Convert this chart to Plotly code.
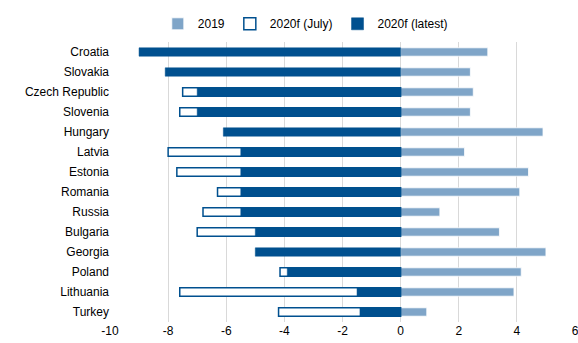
import plotly.graph_objects as go

countries = ["Croatia", "Slovakia", "Czech Republic", "Slovenia", "Hungary", "Latvia",
             "Estonia", "Romania", "Russia", "Bulgaria", "Georgia", "Poland",
             "Lithuania", "Turkey"]
gdp_2019 = [3.0, 2.4, 2.5, 2.4, 4.9, 2.2, 4.4, 4.1, 1.35, 3.4, 5.0, 4.15, 3.9, 0.9]
f2020_july = [None, None, -7.5, -7.6, None, -8.0, -7.7, -6.3, -6.8, -7.0, None, -4.15, -7.6, -4.2]
f2020_latest = [-9.0, -8.1, -7.0, -7.0, -6.1, -5.5, -5.5, -5.5, -5.5, -5.0, -5.0, -3.9, -1.5, -1.4]
x_ticks = [-10, -8, -6, -4, -2, 0, 2, 4, 6]

dark = "#00508F"
light = "#7FA5C8"

fig = go.Figure()
fig.add_trace(go.Bar(y=countries, x=gdp_2019, orientation="h", name="2019",
                     marker=dict(color=light, line=dict(color="white", width=0.8)),
                     width=0.42))
fig.add_trace(go.Bar(y=countries, x=f2020_july, orientation="h", name="2020f (July)",
                     marker=dict(color="white", line=dict(color=dark, width=1.5)),
                     width=0.42))
fig.add_trace(go.Bar(y=countries, x=f2020_latest, orientation="h", name="2020f (latest)",
                     marker=dict(color=dark, line=dict(color=dark, width=0.5)),
                     width=0.42))

fig.update_layout(
    width=578, height=343,
    barmode="overlay",
    plot_bgcolor="white", paper_bgcolor="white",
    margin=dict(l=110, r=3, t=42, b=21),
    font=dict(family="Liberation Sans, Arial, sans-serif", size=12, color="#000000"),
    legend=dict(orientation="h", x=0.42, xanchor="center", y=1.065, yanchor="middle",
                font=dict(size=12), itemwidth=30, traceorder="normal",
                bgcolor="rgba(0,0,0,0)"),
    xaxis=dict(range=[-10, 6], tickvals=x_ticks, ticktext=[str(v) for v in x_ticks],
               showgrid=True, gridcolor="#D9D9D9", gridwidth=1, zeroline=True,
               zerolinecolor="#D9D9D9", zerolinewidth=1, showline=False, ticks="",
               ticklabeloverflow="allow", automargin=False),
    yaxis=dict(autorange="reversed", showgrid=False, ticks="", ticklen=0,
               showline=False, automargin=False),
    bargap=0.5,
)

fig.write_html("out.html")
